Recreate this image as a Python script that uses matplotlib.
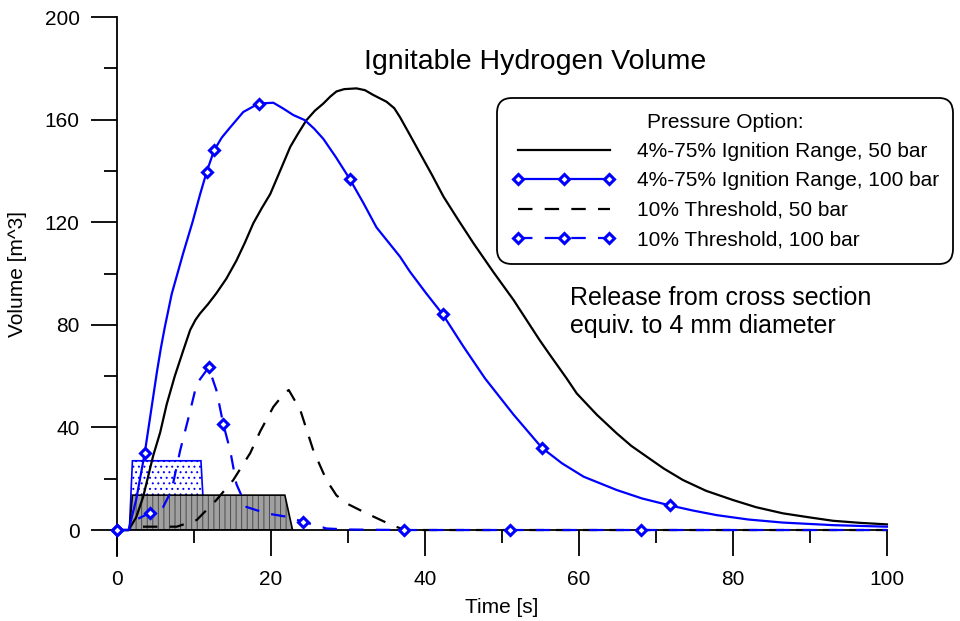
import numpy as np
import matplotlib
matplotlib.use("Agg")
import matplotlib.pyplot as plt

plt.rcParams['font.family'] = ['Liberation Sans', 'DejaVu Sans']
plt.rcParams['hatch.linewidth'] = 0.7

# 4%-75% ignition range, 50 bar
t_50 = [0, 1.5, 2.5, 3.4, 4.7, 5.6, 6.45, 7.5, 8.6, 9.5, 10.2, 10.8, 11.8, 12.9, 14.2, 15.5,
        16.6, 17.7, 18.8, 19.9, 21.6, 22.5, 23.5, 24.6, 25.7, 26.8, 27.7, 28.5, 29.5, 31.1,
        32.2, 33.3, 35.0, 36.0, 36.75, 38.05, 39.35, 40.9, 42.4, 44.3, 46.3, 48.9, 51.5, 54.9,
        56.2, 58.4, 59.7, 62.3, 64.9, 66.8, 68.8, 71.0, 73.5, 76.5, 80.0, 83.0, 86.5, 90.0,
        93.0, 96.5, 100.0]
v_50 = [0, 0, 5, 13, 29, 38, 49, 60, 70, 78, 82, 84.5, 88, 92.3, 98, 105,
        112, 119.6, 125.5, 131, 143, 149.4, 154.5, 159.8, 163.5, 166.3, 169, 171, 171.9, 172.2,
        171.5, 169.6, 167, 164.5, 161, 154, 146.9, 138.5, 130, 121, 111.8, 100.5, 89.7, 74,
        68.4, 59.1, 53.3, 45, 37.7, 32.8, 28.6, 24, 19.5, 15.3, 11.7, 8.9, 6.5, 4.9,
        3.6, 2.8, 2.2]

# 4%-75% ignition range, 100 bar
t_100 = [0, 1.5, 2.5, 3.6, 4.5, 5.2, 5.7, 6.2, 7.1, 8.6, 9.8, 10.8, 11.65, 12.6, 13.6, 14.7,
         16.4, 18.4, 20.3, 21.5, 22.9, 24.4, 25.6, 26.8, 28.4, 30.2, 32.0, 33.7, 36.75, 38.05,
         40.1, 42.3, 45.0, 47.8, 51.5, 55.2, 57.8, 60.6, 64.9, 68.2, 71.8, 74.8, 77.9, 82.0,
         86.5, 93.0, 100.0]
v_100 = [0, 0, 12, 30, 48, 62, 71, 79, 92, 108, 120, 131, 139.7, 148, 153, 157,
         163, 166.3, 166.6, 164.5, 161.8, 159.8, 156.5, 152.5, 145.5, 137, 127.5, 118, 106.6, 100.7,
         92.5, 84.1, 71.5, 59.1, 45, 32, 26, 20.8, 15.6, 12.3, 9.6, 7.6, 5.8, 4.1,
         2.9, 1.9, 1.3]
mark_100 = [0, 3.6, 11.65, 12.6, 18.4, 30.2, 42.3, 55.2, 71.8]

# 10% threshold, 50 bar
t_50_thr = [0, 1.5, 2.5, 7.75, 10.35, 12.9, 15.1, 17.3, 18.6, 20.3, 21.5, 22.3, 23.8, 25.5,
            27.2, 28.5, 29.8, 32.4, 35.9, 37.5, 100.0]
v_50_thr = [0, 0, 1.3, 1.3, 3.9, 11.7, 19.5, 30, 38.5, 48, 52.5, 54.6, 46.8, 31,
            19.5, 13.5, 10.4, 6.5, 1.6, 0, 0]

# 10% threshold, 100 bar
t_100_thr = [0, 1.5, 2.5, 4.3, 6.0, 7.1, 8.2, 9.3, 10.35, 11.9, 12.9, 13.8, 14.7, 15.5, 16.8,
             19.4, 22.0, 24.1, 27.2, 30.0, 37.3, 51.0, 68.0, 100.0]
v_100_thr = [0, 0, 4, 6.8, 9, 15.6, 31, 44, 57, 63.4, 54.6, 41.3, 31, 18, 9,
             6.5, 5.2, 3.3, 0.6, 0.2, 0, 0, 0, 0]
mark_100_thr = [0, 4.3, 11.9, 13.8, 24.1, 37.3, 51.0, 68.0]

# shaded duration areas
area_100_t = [1.6, 2.0, 10.9, 11.4]
area_100_v = [0, 27, 27, 0]
area_50_t = [1.6, 2.0, 21.8, 22.8]
area_50_v = [0, 13.6, 13.6, 0]

labels = ['4%-75% Ignition Range, 50 bar', '4%-75% Ignition Range, 100 bar',
          '10% Threshold, 50 bar', '10% Threshold, 100 bar']

blue = '#0000ff'

fig = plt.figure(figsize=(9.6, 6.21), dpi=100)
ax = fig.add_axes([0.1219, 0.1465, 0.802, 0.826])

# shaded areas
ax.fill(area_100_t, area_100_v, facecolor='white', edgecolor=blue, hatch='...', linewidth=1.2, zorder=1)
ax.fill(area_50_t, area_50_v, facecolor='#a0a0a0', edgecolor='#4a4a4a', hatch='|||', linewidth=0, zorder=1.5)
ax.fill(area_50_t, area_50_v, facecolor='none', edgecolor='black', linewidth=1.2, zorder=1.6)

def mark_idx(t, marks):
    return [t.index(m) for m in marks]

lw = 1.6
h1, = ax.plot(t_50, v_50, color='black', lw=lw, clip_on=False, zorder=3)
h2, = ax.plot(t_100, v_100, color=blue, lw=lw, marker='D', ms=5.5, mfc='white', mec=blue, mew=2.2,
              markevery=mark_idx(t_100, mark_100), clip_on=False, zorder=4)
h3, = ax.plot(t_50_thr, v_50_thr, color='black', lw=lw, dashes=(6.5, 5.5), clip_on=False, zorder=3)
h4, = ax.plot(t_100_thr, v_100_thr, color=blue, lw=lw, dashes=(6.5, 5.5), marker='D', ms=5.5,
              mfc='white', mec=blue, mew=2.2, markevery=mark_idx(t_100_thr, mark_100_thr),
              clip_on=False, zorder=4)

ax.set_xlim(0, 100)
ax.set_ylim(0, 200)
ax.set_xticks(np.arange(0, 101, 20))
ax.set_xticks(np.arange(10, 100, 20), minor=True)
ax.set_yticks(np.arange(0, 201, 40))
ax.set_yticks(np.arange(20, 200, 40), minor=True)

for s in ['top', 'right']:
    ax.spines[s].set_visible(False)
for s in ['left', 'bottom']:
    ax.spines[s].set_linewidth(1.3)
ax.spines['left'].set_bounds(-10, 200)

ax.tick_params(which='major', direction='out', length=19, width=1.3, labelsize=15)
ax.tick_params(which='minor', direction='out', length=9.5, width=1.3)
ax.tick_params(axis='x', which='major', pad=10)
ax.tick_params(axis='y', which='major', pad=8)

ax.set_xlabel('Time [s]', fontsize=15)
ax.set_ylabel('Volume [m^3]', fontsize=15)
ax.xaxis.set_label_coords(0.5, -0.132)
ax.yaxis.set_label_coords(-0.117, 0.5)

fig.text(535 / 960, 1 - 62 / 621, 'Ignitable Hydrogen Volume', fontsize=20.5,
         ha='center', va='center')
fig.text(570 / 960, 1 - 312 / 621, 'Release from cross section\nequiv. to 4 mm diameter',
         fontsize=18, ha='left', va='center', linespacing=1.2)

leg = ax.legend([h1, h2, h3, h4], labels, title='Pressure Option:', fontsize=15,
                title_fontsize=15, loc='upper left', bbox_to_anchor=(497 / 960, 1 - 98 / 621),
                bbox_transform=fig.transFigure, borderaxespad=0, numpoints=3,
                handlelength=5, handletextpad=1.0, labelspacing=0.5, borderpad=0.7,
                fancybox=True, framealpha=1, edgecolor='black')
leg.get_frame().set_linewidth(1.3)
leg.get_frame().set_boxstyle('round', pad=0, rounding_size=0.7)
leg.set_zorder(10)

fig.savefig('out.png', dpi=100)
